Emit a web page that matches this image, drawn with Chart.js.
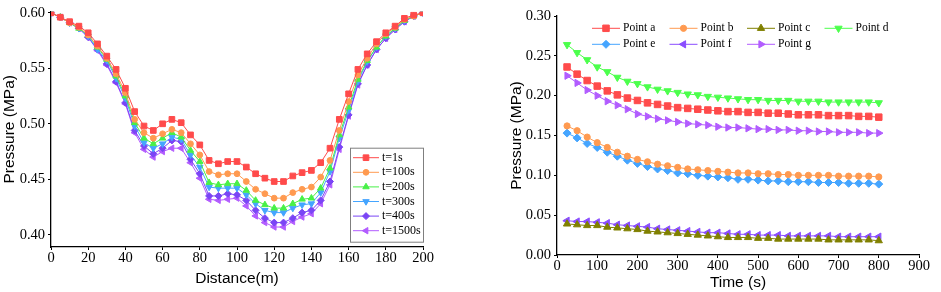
<!DOCTYPE html>
<html>
<head>
<meta charset="utf-8">
<script src="https://cdn.jsdelivr.net/npm/chart.js@4.4.0/dist/chart.umd.min.js"></script>
<style>
  html, body { margin: 0; padding: 0; background: #fff; }
  #left { position: absolute; left: 0; top: 0; width: 460px; height: 292px; }
  #right { position: absolute; left: 470px; top: 0; width: 471px; height: 292px; }
</style>
</head>
<body>
<div id="left"><canvas id="chart-0"></canvas></div>
<div id="right"><canvas id="chart-1"></canvas></div>
<script>
// left panel: pressure along the distance at several times
const distance = [0, 5, 10, 15, 20, 25, 30, 35, 40, 45, 50, 55, 60, 65, 70, 75, 80, 85, 90, 95, 100,
  105, 110, 115, 120, 125, 130, 135, 140, 145, 150, 155, 160, 165, 170, 175, 180, 185, 190, 195, 200]
const timeLabels = ['t=1s', 't=100s', 't=200s', 't=300s', 't=400s', 't=1500s']
const p1s = [0.600, 0.596, 0.592, 0.588, 0.582, 0.572, 0.561, 0.549, 0.532, 0.511, 0.498, 0.494, 0.500, 0.504, 0.501, 0.490, 0.481, 0.467, 0.464, 0.466, 0.466,
  0.461, 0.455, 0.451, 0.448, 0.448, 0.453, 0.456, 0.458, 0.465, 0.478, 0.504, 0.527, 0.549, 0.563, 0.574, 0.582, 0.588, 0.595, 0.598, 0.600]
const p100s = [0.600, 0.596, 0.591, 0.587, 0.580, 0.570, 0.559, 0.545, 0.528, 0.504, 0.492, 0.487, 0.491, 0.495, 0.492, 0.482, 0.472, 0.457, 0.454, 0.455, 0.455,
  0.448, 0.441, 0.437, 0.433, 0.433, 0.438, 0.441, 0.443, 0.452, 0.467, 0.494, 0.520, 0.544, 0.559, 0.572, 0.581, 0.587, 0.594, 0.597, 0.600]
const p200s = [0.600, 0.596, 0.591, 0.586, 0.580, 0.569, 0.558, 0.543, 0.525, 0.501, 0.487, 0.482, 0.487, 0.492, 0.488, 0.476, 0.466, 0.447, 0.445, 0.446, 0.446,
  0.440, 0.431, 0.427, 0.424, 0.424, 0.428, 0.432, 0.433, 0.442, 0.460, 0.490, 0.515, 0.540, 0.557, 0.569, 0.579, 0.586, 0.593, 0.597, 0.600]
const p300s = [0.600, 0.596, 0.591, 0.586, 0.579, 0.567, 0.557, 0.541, 0.523, 0.498, 0.483, 0.478, 0.482, 0.488, 0.486, 0.472, 0.461, 0.443, 0.442, 0.442, 0.442,
  0.436, 0.428, 0.422, 0.420, 0.420, 0.424, 0.427, 0.428, 0.438, 0.457, 0.487, 0.512, 0.538, 0.556, 0.569, 0.579, 0.586, 0.593, 0.597, 0.600]
const p400s = [0.600, 0.596, 0.591, 0.586, 0.578, 0.567, 0.554, 0.538, 0.519, 0.494, 0.480, 0.473, 0.478, 0.485, 0.484, 0.468, 0.455, 0.435, 0.435, 0.437, 0.436,
  0.431, 0.422, 0.415, 0.411, 0.411, 0.415, 0.420, 0.422, 0.431, 0.448, 0.479, 0.508, 0.536, 0.553, 0.567, 0.577, 0.585, 0.592, 0.597, 0.600]
const p1500s = [0.600, 0.596, 0.591, 0.586, 0.578, 0.566, 0.553, 0.537, 0.518, 0.492, 0.477, 0.470, 0.475, 0.478, 0.478, 0.465, 0.451, 0.432, 0.431, 0.432, 0.433,
  0.426, 0.417, 0.411, 0.407, 0.407, 0.412, 0.416, 0.419, 0.428, 0.445, 0.477, 0.507, 0.535, 0.553, 0.567, 0.577, 0.585, 0.592, 0.597, 0.600]
const distanceTicks = [0, 20, 40, 60, 80, 100, 120, 140, 160, 180, 200]
const leftPressureTicks = [0.40, 0.45, 0.50, 0.55, 0.60]

// right panel: pressure over time at the monitoring points
const time = [25, 50, 75, 100, 125, 150, 175, 200, 225, 250, 275, 300, 325, 350, 375, 400,
  425, 450, 475, 500, 525, 550, 575, 600, 625, 650, 675, 700, 725, 750, 775, 800]
const pointLabels = ['Point a', 'Point b', 'Point c', 'Point d', 'Point e', 'Point f', 'Point g']
const pointA = [0.236, 0.227, 0.219, 0.212, 0.206, 0.201, 0.197, 0.194, 0.191, 0.189, 0.187, 0.185, 0.184, 0.183, 0.182, 0.181,
  0.180, 0.180, 0.179, 0.179, 0.178, 0.178, 0.177, 0.176, 0.176, 0.176, 0.175, 0.175, 0.175, 0.174, 0.174, 0.173]
const pointB = [0.162, 0.156, 0.148, 0.141, 0.135, 0.129, 0.124, 0.120, 0.117, 0.114, 0.112, 0.110, 0.108, 0.107, 0.106, 0.105,
  0.104, 0.103, 0.103, 0.102, 0.102, 0.101, 0.101, 0.100, 0.100, 0.100, 0.100, 0.099, 0.099, 0.099, 0.099, 0.098]
const pointC = [0.039, 0.038, 0.037, 0.037, 0.035, 0.034, 0.033, 0.032, 0.030, 0.029, 0.028, 0.027, 0.026, 0.025, 0.024, 0.023,
  0.022, 0.022, 0.022, 0.021, 0.021, 0.020, 0.020, 0.020, 0.020, 0.020, 0.019, 0.019, 0.019, 0.019, 0.019, 0.018]
const pointD = [0.264, 0.254, 0.245, 0.236, 0.230, 0.223, 0.218, 0.215, 0.211, 0.208, 0.206, 0.204, 0.202, 0.201, 0.199, 0.198,
  0.197, 0.196, 0.195, 0.195, 0.194, 0.194, 0.194, 0.193, 0.193, 0.193, 0.192, 0.192, 0.192, 0.192, 0.192, 0.191]
const pointE = [0.153, 0.147, 0.140, 0.135, 0.129, 0.124, 0.119, 0.115, 0.111, 0.108, 0.106, 0.103, 0.102, 0.100, 0.099, 0.098,
  0.097, 0.095, 0.095, 0.094, 0.093, 0.093, 0.092, 0.092, 0.092, 0.091, 0.091, 0.091, 0.090, 0.090, 0.090, 0.089]
const pointF = [0.043, 0.042, 0.042, 0.041, 0.040, 0.038, 0.037, 0.036, 0.035, 0.033, 0.032, 0.031, 0.030, 0.029, 0.028, 0.028,
  0.027, 0.026, 0.026, 0.025, 0.025, 0.025, 0.024, 0.024, 0.024, 0.024, 0.024, 0.023, 0.023, 0.023, 0.023, 0.023]
const pointG = [0.225, 0.216, 0.207, 0.200, 0.193, 0.188, 0.183, 0.177, 0.174, 0.171, 0.169, 0.167, 0.165, 0.164, 0.163, 0.161,
  0.160, 0.160, 0.159, 0.158, 0.158, 0.157, 0.157, 0.156, 0.156, 0.155, 0.155, 0.154, 0.154, 0.154, 0.153, 0.153]
const timeTicks = [0, 100, 200, 300, 400, 500, 600, 700, 800, 900]
const rightPressureTicks = [0.00, 0.05, 0.10, 0.15, 0.20, 0.25, 0.30]

const serif = '"Liberation Serif", "Times New Roman", serif'
const sans = '"Liberation Sans", Arial, sans-serif'

// legend drawn like Origin: short line with the marker in the middle
const lineLegend = {
  id: 'lineLegend',
  afterDraw(chart, args, opts) {
    const ctx = chart.ctx
    const area = chart.chartArea
    ctx.save()
    if (opts.box) {
      ctx.strokeStyle = '#7f7f7f'
      ctx.lineWidth = 1
      ctx.strokeRect(area.left + opts.box.x + 0.5, area.top + opts.box.y + 0.5, opts.box.w, opts.box.h)
    }
    chart.data.datasets.forEach((ds, i) => {
      const col = i % opts.cols
      const row = Math.floor(i / opts.cols)
      const x = area.left + opts.x + col * opts.colWidth
      const y = area.top + opts.y + row * opts.rowHeight
      ctx.strokeStyle = ds.borderColor
      ctx.fillStyle = ds.backgroundColor
      ctx.lineWidth = 1
      ctx.beginPath()
      ctx.moveTo(x, y)
      ctx.lineTo(x + opts.lineLength, y)
      ctx.stroke()
      Chart.helpers.drawPoint(ctx, {
        pointStyle: ds.pointStyle,
        radius: ds.pointRadius,
        rotation: ds.pointRotation || 0,
        borderWidth: 1
      }, x + opts.lineLength / 2, y)
      ctx.fillStyle = '#000'
      ctx.font = opts.font
      ctx.textAlign = 'left'
      ctx.textBaseline = 'middle'
      ctx.fillText(ds.label, x + opts.lineLength + 3, y)
    })
    ctx.restore()
  }
}

function series(label, xs, ys, color, style, radius, rotation) {
  return {
    label,
    data: xs.map((x, i) => ({ x, y: ys[i] })),
    borderColor: color,
    backgroundColor: color,
    borderWidth: 1,
    pointStyle: style,
    pointRadius: radius,
    pointRotation: rotation,
    pointBorderWidth: 1,
    tension: 0
  }
}

function axis(opts) {
  return {
    type: 'linear',
    min: opts.min,
    max: opts.max,
    afterBuildTicks: s => { s.ticks = opts.ticks.map(v => ({ value: v })) },
    afterFit: s => {
      if (opts.width) s.width = opts.width
      if (opts.height) s.height = opts.height
    },
    grid: { drawOnChartArea: false, drawTicks: true, tickLength: 3, color: '#000', lineWidth: 1 },
    border: { display: true, color: '#000', width: 1.3 },
    ticks: {
      color: '#000',
      padding: opts.tickPadding,
      font: { family: serif, size: 14.5 },
      callback: opts.format
    },
    title: {
      display: true,
      text: opts.title,
      color: '#000',
      font: { family: sans, size: 15.5 },
      padding: opts.titlePadding
    }
  }
}

function createChart(id, datasets, scales, padding, legend) {
  new Chart(document.getElementById(id), {
    type: 'line',
    data: { datasets },
    plugins: [lineLegend],
    options: {
      animation: false,
      responsive: true,
      maintainAspectRatio: false,
      devicePixelRatio: 1,
      layout: { padding },
      scales,
      plugins: {
        legend: { display: false },
        tooltip: { enabled: false },
        lineLegend: legend
      }
    }
  })
}

createChart('chart-0', [
  series(timeLabels[0], distance, p1s, '#ff4b4b', 'rect', 4),
  series(timeLabels[1], distance, p100s, '#ff9a50', 'circle', 2.9),
  series(timeLabels[2], distance, p200s, '#48f048', 'triangle', 3.7),
  series(timeLabels[3], distance, p300s, '#45a5ff', 'triangle', 3.7, 180),
  series(timeLabels[4], distance, p400s, '#7a45f5', 'rectRot', 3.5),
  series(timeLabels[5], distance, p1500s, '#b25cff', 'triangle', 3.7, -90)
], {
  x: axis({ min: 0, max: 200, ticks: distanceTicks, height: 45, title: 'Distance(m)', tickPadding: -1,
    titlePadding: { top: 0, bottom: 4 }, format: v => v }),
  y: axis({ min: 0.389, max: 0.601, ticks: leftPressureTicks, width: 51, title: 'Pressure (MPa)', tickPadding: 3,
    titlePadding: { top: 0, bottom: 0 }, format: v => v.toFixed(2) })
}, { top: 8, right: 37, left: 0, bottom: 0 }, {
  x: 302, y: 146, cols: 1, colWidth: 0, rowHeight: 14.6, lineLength: 26,
  font: '12px ' + serif,
  box: { x: 299, y: 136, w: 73, h: 94 }
})

createChart('chart-1', [
  series(pointLabels[0], time, pointA, '#ff4b4b', 'rect', 4.6),
  series(pointLabels[1], time, pointB, '#ff9a50', 'circle', 3.1),
  series(pointLabels[2], time, pointC, '#808000', 'triangle', 4.2),
  series(pointLabels[3], time, pointD, '#4cff4c', 'triangle', 4.2, 180),
  series(pointLabels[4], time, pointE, '#45a5ff', 'rectRot', 4),
  series(pointLabels[5], time, pointF, '#8a4dff', 'triangle', 4.2, -90),
  series(pointLabels[6], time, pointG, '#b25cff', 'triangle', 4.2, 90)
], {
  x: axis({ min: 0, max: 900, ticks: timeTicks, height: 37, title: 'Time (s)', tickPadding: -1,
    titlePadding: { top: 0, bottom: 0 }, format: v => v }),
  y: axis({ min: 0, max: 0.30, ticks: rightPressureTicks, width: 87, title: 'Pressure (MPa)', tickPadding: 3,
    titlePadding: { top: 37, bottom: 0 }, format: v => v.toFixed(2) })
}, { top: 16, right: 22, left: 0, bottom: 0 }, {
  x: 35, y: 12.3, cols: 4, colWidth: 77.5, rowHeight: 16, lineLength: 28,
  font: '11.5px ' + serif
})
</script>
</body>
</html>
